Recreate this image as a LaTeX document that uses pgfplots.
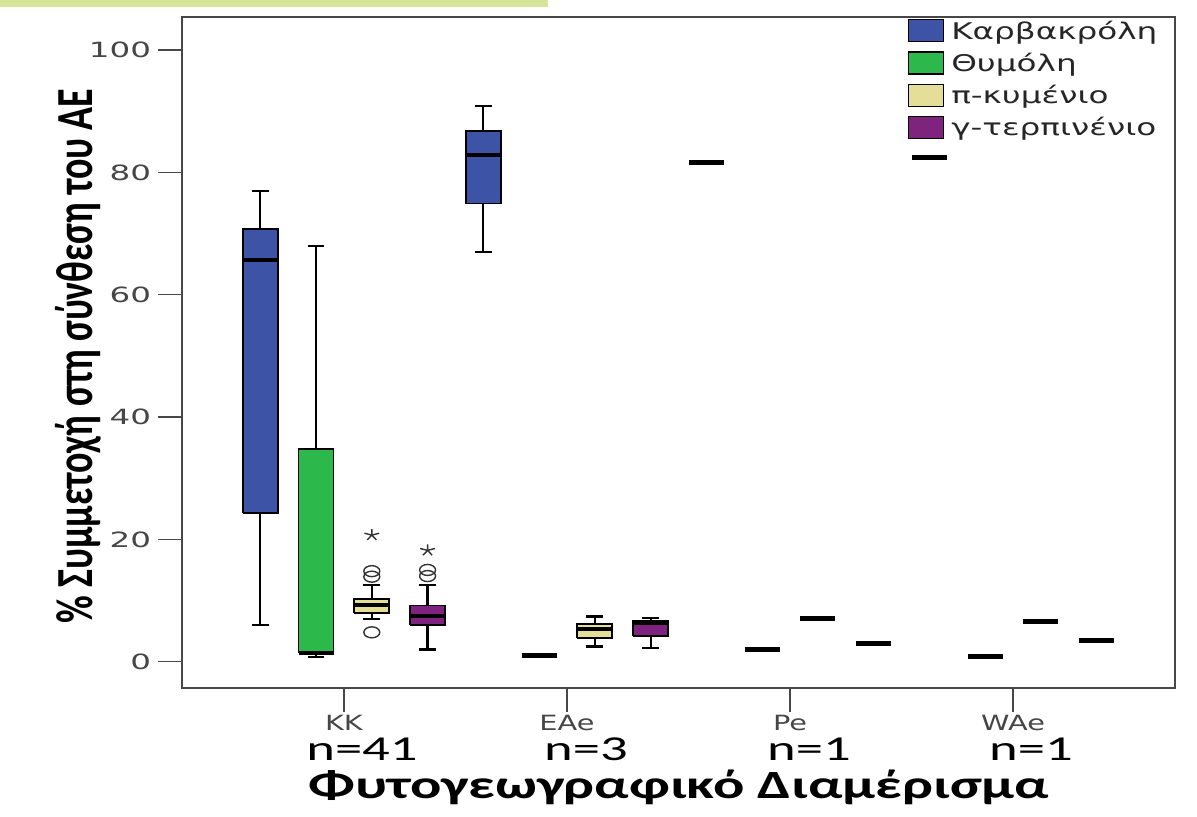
\documentclass[border=0pt]{standalone}
\usepackage{fontspec}
\usepackage{graphicx}
\usepackage{pgfplots}
\pgfplotsset{compat=1.18}
\newfontfamily\dvs{DejaVu Sans}
\newfontfamily\carl{Carlito}
\definecolor{cBlue}{RGB}{61,84,166}
\definecolor{cGreen}{RGB}{44,184,74}
\definecolor{cYellow}{RGB}{228,222,152}
\definecolor{cPurple}{RGB}{126,36,126}
\definecolor{cBar}{RGB}{213,228,153}
\definecolor{cTick}{RGB}{70,70,70}
\newcommand\hs[1]{\scalebox{1.37}[1]{#1}}
\newcommand\hn[1]{\scalebox{1.55}[1]{#1}}
\newcommand\hl[1]{\scalebox{1.42}[1]{#1}}
% box: #1 colour, #2 position, #3 lower whisker, #4 Q1, #5 median, #6 Q3, #7 upper whisker
\newcommand\bx[7]{%
  \pgfmathsetmacro\xa{#2-0.0785}\pgfmathsetmacro\xb{#2+0.0785}%
  \pgfmathsetmacro\ca{#2-0.0375}\pgfmathsetmacro\cb{#2+0.0375}%
  \addplot[black, line width=2.2bp, forget plot] coordinates {(#2,#3) (#2,#4)};
  \addplot[black, line width=2.2bp, forget plot] coordinates {(#2,#6) (#2,#7)};
  \addplot[black, line width=2.2bp, forget plot] coordinates {(\ca,#3) (\cb,#3)};
  \addplot[black, line width=2.2bp, forget plot] coordinates {(\ca,#7) (\cb,#7)};
  \addplot[fill=#1, draw=black, line width=1.8bp, line join=miter, forget plot] coordinates {(\xa,#4) (\xb,#4) (\xb,#6) (\xa,#6) (\xa,#4)};
  \addplot[black, line width=4bp, forget plot] coordinates {(\xa,#5) (\xb,#5)};
}
% single value: #1 position, #2 value
\newcommand\sv[2]{%
  \pgfmathsetmacro\xa{#1-0.0785}\pgfmathsetmacro\xb{#1+0.0785}%
  \addplot[black, line width=5bp, forget plot] coordinates {(\xa,#2) (\xb,#2)};
}
\begin{document}
\begin{tikzpicture}
\begin{axis}[
  at={(182bp,129bp)}, anchor=south west,
  width=993bp, height=671bp, scale only axis,
  xmin=-0.726, xmax=3.726, ymin=-4.3, ymax=105.4,
  xtick={0,1,2,3}, xticklabels={\hs{KK},\hs{EAe},\hs{Pe},\hs{WAe}},
  ytick={0,20,40,60,80,100}, yticklabels={\hn{0},\hn{20},\hn{40},\hn{60},\hn{80},\hn{100}},
  xtick pos=bottom, ytick pos=left, tick align=outside,
  axis line style={draw=black!72, line width=1.6bp},
  major tick length=24bp,
  tick style={draw=black!72, line width=1.6bp},
  ticklabel style={font=\dvs\fontsize{21bp}{25bp}\selectfont, text=cTick},
  yticklabel style={xshift=-3.5bp},
  clip=false,
  legend style={at={(0.731,0.997)}, anchor=north west, draw=none, fill=none, inner sep=0pt, row sep=9bp, font=\dvs\fontsize{23bp}{26bp}\selectfont, nodes={inner sep=0pt, text=black!85}},
  legend cell align=left,
  legend image code/.code={\draw[#1, line width=1.2bp] (0bp,-11bp) rectangle (35bp,11bp);},
]
\addlegendimage{fill=cBlue, draw=black}
\addlegendentry{\hspace{7bp}\hl{Καρβακρόλη}}
\addlegendimage{fill=cGreen, draw=black}
\addlegendentry{\hspace{7bp}\hl{Θυμόλη}}
\addlegendimage{fill=cYellow, draw=black}
\addlegendentry{\hspace{7bp}\hl{π-κυμένιο}}
\addlegendimage{fill=cPurple, draw=black}
\addlegendentry{\hspace{7bp}\hl{γ-τερπινένιο}}

% KK (n=41)
\bx{cBlue}{-0.375}{6.0}{24.3}{65.6}{70.8}{77.0}
\bx{cGreen}{-0.125}{0.8}{1.5}{1.5}{34.8}{68.0}
\bx{cYellow}{0.125}{7.0}{8.0}{9.2}{10.3}{12.5}
\bx{cPurple}{0.375}{2.0}{6.0}{7.4}{9.2}{12.6}
% EAe (n=3)
\bx{cBlue}{0.625}{67.0}{74.9}{82.9}{86.8}{90.9}
\sv{0.875}{1.0}
\bx{cYellow}{1.125}{2.5}{3.9}{5.3}{6.2}{7.4}
\bx{cPurple}{1.375}{2.3}{4.2}{6.4}{6.7}{7.1}
% Pe (n=1)
\sv{1.625}{81.6}
\sv{1.875}{2.0}
\sv{2.125}{7.1}
\sv{2.375}{2.9}
% WAe (n=1)
\sv{2.625}{82.4}
\sv{2.875}{0.9}
\sv{3.125}{6.5}
\sv{3.375}{3.4}

% outliers
\addplot[only marks, mark=o, mark size=5.5bp, mark options={xscale=1.45, line width=1.4bp, draw=black!80}, forget plot] coordinates {(0.125,14.8) (0.125,13.9) (0.125,4.8) (0.375,15.0) (0.375,14.0)};
\addplot[only marks, mark=star, mark size=6bp, mark options={xscale=1.3, line width=1.4bp, draw=black!80}, forget plot] coordinates {(0.125,20.7) (0.375,18.2)};
\end{axis}

\node[rotate=90] at (78bp,461bp) {\scalebox{1}[1.37]{\carl\bfseries\fontsize{38bp}{42bp}\selectfont \% Συμμετοχή στη σύνθεση του ΑΕ}};
\node at (679bp,30bp) {\scalebox{1.46}[1]{\carl\bfseries\fontsize{40bp}{44bp}\selectfont Φυτογεωγραφικό Διαμέρισμα}};
\foreach \xx/\tt in {362/41,586/3,809/1,1031/1}{
  \node[inner sep=1bp] at (\xx bp,68bp) {\scalebox{1.56}[1]{\carl\fontsize{35bp}{40bp}\selectfont n=\tt}};
}
\fill[cBar] (0,810bp) rectangle (548bp,817bp);
\pgfresetboundingbox
\path[use as bounding box] (0,0) rectangle (1197bp,817bp);
\end{tikzpicture}
\end{document}
